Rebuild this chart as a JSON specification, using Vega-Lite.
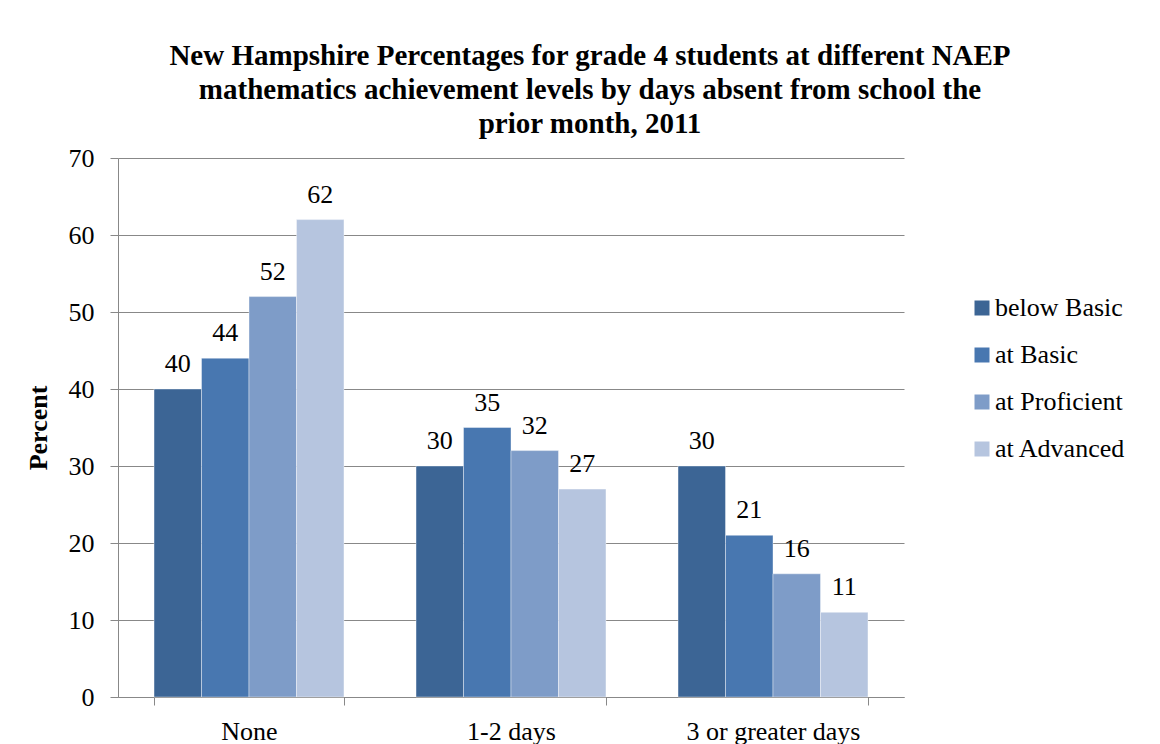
{
  "$schema": "https://vega.github.io/schema/vega-lite/v6.json",
  "width": 786,
  "height": 539,
  "autosize": {"type": "none"},
  "padding": {"left": 118, "top": 158, "right": 256, "bottom": 47},
  "background": "white",
  "title": {
    "text": [
      "New Hampshire Percentages for grade 4 students at different NAEP",
      "mathematics achievement levels by days absent from school the",
      "prior month, 2011"
    ],
    "font": "Liberation Serif",
    "fontSize": 29,
    "fontWeight": "bold",
    "lineHeight": 34,
    "color": "black",
    "anchor": "middle",
    "dx": 79,
    "offset": 6
  },
  "data": {
    "values": [
      {"group": "None", "level": "below Basic", "value": 40},
      {"group": "None", "level": "at Basic", "value": 44},
      {"group": "None", "level": "at Proficient", "value": 52},
      {"group": "None", "level": "at Advanced", "value": 62},
      {"group": "1-2 days", "level": "below Basic", "value": 30},
      {"group": "1-2 days", "level": "at Basic", "value": 35},
      {"group": "1-2 days", "level": "at Proficient", "value": 32},
      {"group": "1-2 days", "level": "at Advanced", "value": 27},
      {"group": "3 or greater days", "level": "below Basic", "value": 30},
      {"group": "3 or greater days", "level": "at Basic", "value": 21},
      {"group": "3 or greater days", "level": "at Proficient", "value": 16},
      {"group": "3 or greater days", "level": "at Advanced", "value": 11}
    ]
  },
  "encoding": {
    "x": {
      "field": "group",
      "type": "nominal",
      "sort": ["None", "1-2 days", "3 or greater days"],
      "scale": {"paddingInner": 0.275, "paddingOuter": 0.1375},
      "axis": {
        "title": null,
        "labelAngle": 0,
        "labelFont": "Liberation Serif",
        "labelFontSize": 26,
        "labelColor": "black",
        "labelPadding": 13,
        "tickBand": "extent",
        "tickSize": 8,
        "tickColor": "#888888",
        "domainColor": "#888888",
        "grid": false
      }
    },
    "xOffset": {
      "field": "level",
      "type": "nominal",
      "sort": ["below Basic", "at Basic", "at Proficient", "at Advanced"],
      "scale": {"paddingInner": 0, "paddingOuter": 0}
    },
    "y": {
      "field": "value",
      "type": "quantitative",
      "scale": {"domain": [0, 70]},
      "axis": {
        "title": "Percent",
        "titleFont": "Liberation Serif",
        "titleFontSize": 26,
        "titleFontWeight": "bold",
        "titleColor": "black",
        "titlePadding": 17,
        "values": [0, 10, 20, 30, 40, 50, 60, 70],
        "labelFont": "Liberation Serif",
        "labelFontSize": 26,
        "labelColor": "black",
        "labelPadding": 16,
        "tickSize": 8,
        "tickColor": "#888888",
        "domainColor": "#888888",
        "grid": true,
        "gridColor": "#888888",
        "gridOpacity": 1
      }
    }
  },
  "layer": [
    {
      "mark": {"type": "bar", "stroke": "white", "strokeWidth": 0.4},
      "encoding": {
        "color": {
          "field": "level",
          "type": "nominal",
          "sort": ["below Basic", "at Basic", "at Proficient", "at Advanced"],
          "scale": {
            "domain": ["below Basic", "at Basic", "at Proficient", "at Advanced"],
            "range": ["#3C6595", "#4877B0", "#7E9CC8", "#B6C5DF"]
          },
          "legend": {
            "title": null,
            "orient": "none",
            "legendX": 851,
            "legendY": 137,
            "symbolType": "square",
            "symbolSize": 225,
            "symbolStrokeWidth": 0,
            "labelFont": "Liberation Serif",
            "labelFontSize": 26,
            "labelColor": "black",
            "labelOffset": 0,
            "rowPadding": 21
          }
        }
      }
    },
    {
      "mark": {
        "type": "text",
        "baseline": "alphabetic",
        "dy": -17,
        "font": "Liberation Serif",
        "fontSize": 26,
        "color": "black"
      },
      "encoding": {
        "text": {"field": "value", "type": "quantitative"}
      }
    }
  ],
  "config": {
    "view": {"stroke": null}
  }
}
